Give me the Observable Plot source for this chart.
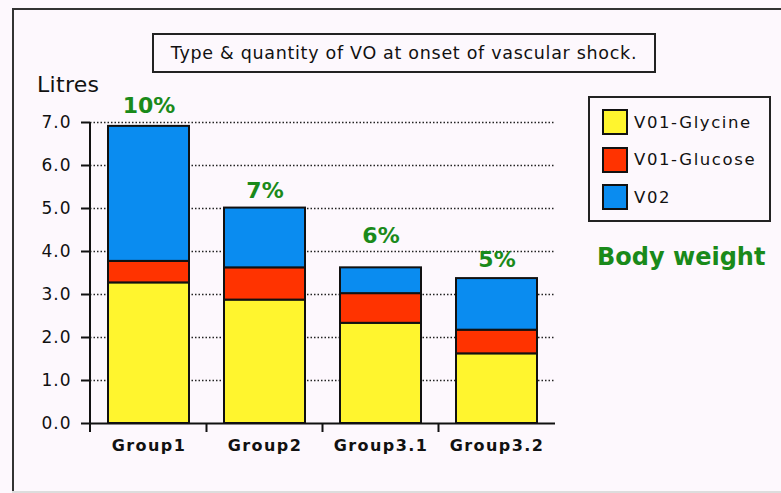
<!DOCTYPE html>
<html>
<head>
<meta charset="utf-8">
<script src="https://cdn.jsdelivr.net/npm/d3@7"></script>
<script src="https://cdn.jsdelivr.net/npm/@observablehq/plot@0.6"></script>
<style>
  html, body { margin: 0; padding: 0; background: #fdf8fd; }
  #wrap { position: relative; width: 781px; height: 493px; overflow: hidden; font-family: "DejaVu Sans", sans-serif; }
  #wrap svg { position: absolute; left: 0; top: 0; }
  .abs { position: absolute; }
</style>
</head>
<body>
<div id="wrap">
  <div class="abs" style="left:12px;top:8px;width:790px;height:2px;background:#333"></div>
  <div class="abs" style="left:12px;top:8px;width:2px;height:490px;background:#333"></div>
  <div class="abs" style="left:12px;top:491px;width:790px;height:2px;background:#ddd"></div>
  <div id="title" class="abs" style="left:152px;top:33px;width:500px;height:36px;border:2px solid #222;display:flex;align-items:center;justify-content:center;font-size:17.5px;letter-spacing:0.7px;color:#111;white-space:nowrap"></div>
  <div id="ylabel" class="abs" style="left:37px;top:72px;font-size:22px;color:#111;letter-spacing:0.3px"></div>
  <div id="legend" class="abs" style="left:588px;top:96px;width:179px;height:122px;border:2px solid #222"></div>
  <div id="note" class="abs" style="left:597px;top:243px;font-size:24px;font-weight:bold;color:#1a8a1a;white-space:nowrap"></div>
</div>
<script>
const groups = ["Group1", "Group2", "Group3.1", "Group3.2"];
const series = ["V01-Glycine", "V01-Glucose", "V02"];
const glycine = [3.27, 2.87, 2.33, 1.62];
const glucose = [0.50, 0.75, 0.69, 0.55];
const vo2 = [3.14, 1.39, 0.60, 1.20];
const pctLabels = ["10%", "7%", "6%", "5%"];
const pctLabelY = [7.22, 5.24, 4.19, 3.64];
const yTicks = [0, 1, 2, 3, 4, 5, 6, 7];
const colors = ["#fff52e", "#ff3300", "#0a8cf0"];
const titleText = "Type & quantity of VO at onset of vascular shock.";
const yLabelText = "Litres";
const noteText = "Body weight";

const valuesBySeries = [glycine, glucose, vo2];
const rows = series.flatMap((s, si) => groups.map((g, gi) => ({group: g, series: s, value: valuesBySeries[si][gi]})));
const labels = groups.map((g, i) => ({group: g, y: pctLabelY[i], text: pctLabels[i]}));

const plot = Plot.plot({
  width: 781,
  height: 493,
  marginLeft: 90,
  marginRight: 226,
  marginTop: 122,
  marginBottom: 70,
  style: {background: "transparent", fontFamily: "DejaVu Sans, sans-serif", color: "#111"},
  x: {domain: groups, paddingInner: 0.3, paddingOuter: 0.15, axis: null},
  y: {domain: [0, 7], axis: null},
  color: {domain: series, range: colors},
  marks: [
    Plot.gridY(yTicks.filter(d => d > 0), {stroke: "#222", strokeOpacity: 1, strokeWidth: 1.5, strokeDasharray: "1.5,2"}),
    Plot.barY(rows, {x: "group", y: "value", fill: "series", stroke: "#111", strokeWidth: 2}),
    Plot.ruleY([0], {stroke: "#111", strokeWidth: 2}),
    Plot.axisY(yTicks, {tickSize: 9, tickPadding: 10, tickFormat: d3.format(".1f"), fontSize: 17, label: null, stroke: "#111", strokeWidth: 2}),
    Plot.axisX(groups, {tickSize: 0, tickPadding: 16, fontWeight: "bold", fontSize: 16, label: null}),
    Plot.text(labels, {x: "group", y: "y", text: "text", fill: "#1a8a1a", fontWeight: "bold", fontSize: 22, lineAnchor: "bottom"})
  ]
});

// axis line and band-boundary ticks drawn from the plot's own scales
const xs = plot.scale("x");
const ys = plot.scale("y");
const svg = d3.select(plot);
const x0 = xs.range[0];
const yTop = ys.apply(7);
const yBase = ys.apply(0);
svg.append("line").attr("x1", x0).attr("x2", x0).attr("y1", yTop).attr("y2", yBase + 9)
  .attr("stroke", "#111").attr("stroke-width", 2);
groups.forEach((g, i) => {
  if (i === 0) return;
  const xb = xs.apply(g) - (xs.step - xs.bandwidth) / 2;
  svg.append("line").attr("x1", xb).attr("x2", xb).attr("y1", yBase).attr("y2", yBase + 9)
    .attr("stroke", "#111").attr("stroke-width", 2);
});
svg.selectAll("g[aria-label='x-axis tick label'] text").style("letter-spacing", "1.4px");
svg.selectAll("g[aria-label='y-axis tick label'] text").style("letter-spacing", "1px");

document.getElementById("wrap").prepend(plot);

document.getElementById("title").textContent = titleText;
document.getElementById("ylabel").textContent = yLabelText;
document.getElementById("note").textContent = noteText;

const legend = document.getElementById("legend");
series.forEach((s, i) => {
  const row = document.createElement("div");
  row.style.cssText = `position:absolute;left:12px;top:${11 + i * 37.5}px;height:26px;display:flex;align-items:center;white-space:nowrap`;
  const sw = document.createElement("div");
  sw.style.cssText = `width:22px;height:22px;border:2px solid #111;background:${colors[i]};margin-right:6px`;
  const tx = document.createElement("span");
  tx.textContent = s;
  tx.style.cssText = "font-size:16.5px;letter-spacing:1.6px;color:#111";
  row.appendChild(sw);
  row.appendChild(tx);
  legend.appendChild(row);
});
</script>
</body>
</html>
